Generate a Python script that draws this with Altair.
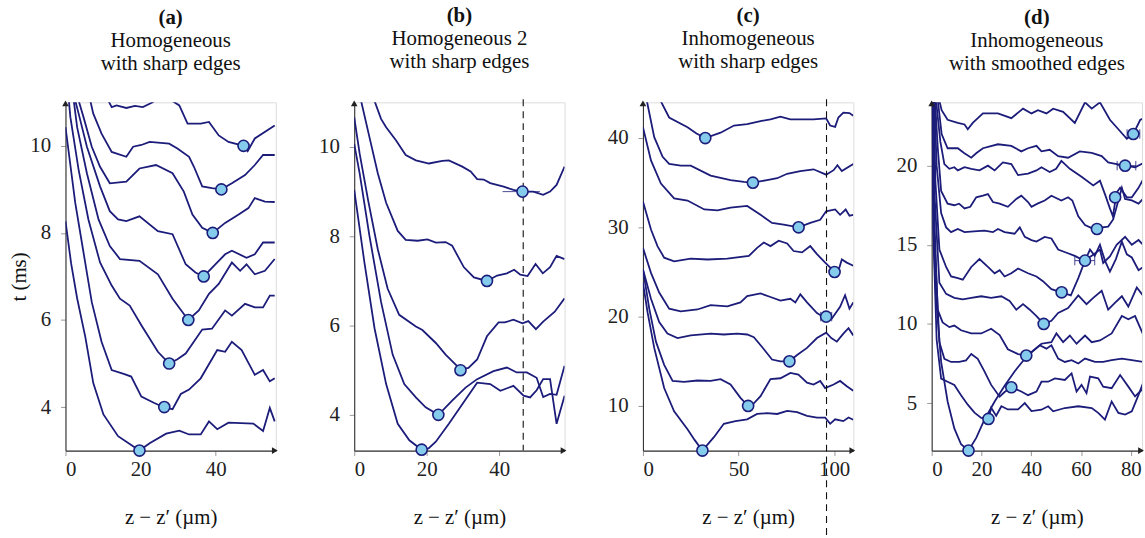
import altair as alt
import pandas as pd

NAVY = "#1c1c7a"
SKY = "#84cbec"
FONT = "'Liberation Serif', 'Times New Roman', 'DejaVu Serif', serif"
FS = 21

# ---------------- panel (a) ----------------
A3 = [(0, 8.27), (1.5, 7.3), (3.1, 6.5), (5.3, 5.6), (7.4, 4.55), (10.1, 3.83), (14.0, 3.33), (19.7, 3.0),
      (22.4, 3.17), (26.8, 3.39), (30.3, 3.46), (32.9, 3.37), (36.0, 3.37), (38.2, 3.67), (40.4, 3.49),
      (43.4, 3.64), (50.0, 3.62), (52.6, 3.45), (54.4, 3.98), (55.7, 3.67)]
A4 = [(0, 10.43), (2.6, 8.69), (4.8, 7.55), (7.0, 6.41), (9.6, 5.5), (12.3, 4.85), (15.5, 4.76), (17.5, 4.70),
      (20.2, 4.24), (23.5, 4.1), (26.3, 3.99), (28.5, 3.95), (30.7, 4.3), (32.9, 4.4), (36.0, 4.66), (40.4, 5.31),
      (42.5, 5.27), (44.3, 5.5), (46.9, 5.31), (50.4, 4.74), (52.6, 4.85), (54.4, 4.59), (55.7, 4.66)]
A5 = [(0.9, 11.04), (1.3, 10.66), (3.5, 9.45), (6.1, 8.31), (9.2, 7.32), (12.3, 6.79), (14.5, 6.49), (17.1, 6.33),
      (20.2, 5.88), (24.6, 5.27), (27.6, 5.0), (29.8, 5.1), (32.0, 5.23), (36.4, 5.78), (39.0, 5.8), (42.5, 6.22),
      (44.3, 6.1), (47.8, 6.37), (50.4, 6.29), (52.6, 6.29), (54.4, 6.56), (55.7, 6.56)]
A6 = [(2.2, 11.04), (3.1, 10.43), (5.7, 9.37), (8.8, 8.31), (11.8, 7.70), (14.5, 7.40), (19.7, 7.36), (24.6, 7.05),
      (28.5, 6.49), (32.7, 6.0), (35.5, 6.22), (38.2, 6.6), (40.8, 6.83), (44.3, 7.32), (46.5, 7.13), (48.2, 7.28),
      (50.4, 7.05), (53.1, 7.13), (55.7, 7.40)]
A7 = [(2.6, 11.04), (3.5, 10.74), (5.7, 9.98), (9.2, 9.07), (11.8, 8.50), (14.0, 8.31), (16.2, 8.27), (19.7, 8.38),
      (24.6, 8.04), (28.5, 7.97), (32.0, 7.28), (34.6, 7.09), (36.8, 7.0), (39.9, 7.28), (42.5, 7.51), (44.3, 7.59),
      (48.2, 7.43), (50.4, 7.51), (52.6, 7.78), (55.7, 7.78)]
A8 = [(3.5, 11.04), (4.8, 10.66), (7.0, 9.98), (9.2, 9.52), (11.8, 9.14), (16.2, 9.18), (19.7, 9.48), (24.1, 9.56),
      (28.5, 9.37), (31.5, 8.95), (33.8, 8.42), (36.4, 8.12), (39.2, 8.0), (42.5, 8.23), (46.0, 8.42), (48.7, 8.57),
      (50.4, 8.80), (53.1, 8.72), (55.7, 8.71)]
A9 = [(6.6, 11.04), (7.4, 10.74), (9.6, 10.28), (12.3, 9.86), (16.2, 9.75), (18.0, 9.98), (20.2, 10.02),
      (22.4, 10.09), (27.6, 10.05), (29.8, 9.94), (32.9, 9.75), (34.2, 9.52), (36.4, 9.07), (39.0, 9.03),
      (41.5, 9.0), (44.3, 9.14), (47.8, 9.33), (50.4, 9.56), (52.6, 9.79), (55.7, 9.79)]
A10 = [(28.1, 11.05), (30.3, 10.93), (32.5, 10.51), (36.0, 10.51), (38.2, 10.55), (40.8, 10.24), (43.4, 10.09),
       (47.4, 10.0), (48.5, 9.88), (50.4, 10.17), (55.7, 10.47)]
A11 = [(11.4, 11.04), (12.3, 10.89), (13.6, 10.93), (16.2, 10.87), (18.5, 10.92), (20.6, 10.89), (23.2, 11.0),
       (24.5, 11.1)]
A_PTS = [(19.7, 3), (26.3, 4), (27.6, 5), (32.7, 6), (36.8, 7), (39.2, 8), (41.5, 9), (47.4, 10)]

# ---------------- panel (b) ----------------
B1 = [(0, 9.04), (2.8, 7.42), (5.6, 5.94), (8.8, 4.69), (12.0, 3.80), (15.2, 3.43), (18.6, 3.22), (20.5, 3.25),
      (22.5, 3.40), (26.1, 3.80), (29.8, 4.24), (33.9, 4.72), (37.5, 4.69), (40.3, 4.54), (43.9, 4.65),
      (46.7, 4.43), (48.5, 4.39), (50.3, 4.55), (52.1, 4.80), (54.0, 4.80), (55.8, 3.8), (58, 4.43)]
B2 = [(0, 10.07), (1.5, 9.41), (4.2, 8.01), (7.4, 6.53), (10.6, 5.35), (13.8, 4.69), (17.0, 4.39), (19.7, 4.17),
      (23.2, 4.0), (27.0, 4.32), (30.7, 4.61), (33.9, 4.80), (38.4, 4.98), (42.1, 5.06), (44.8, 4.95),
      (47.6, 4.95), (50.3, 4.83), (52.1, 4.40), (54.0, 4.47), (55.8, 4.45), (58, 5.1)]
B3 = [(0, 10.66), (1.5, 9.85), (3.8, 8.82), (6.5, 7.71), (9.2, 6.83), (12.4, 6.24), (17.0, 5.98), (18.8, 5.90),
      (22.5, 5.61), (25.2, 5.35), (29.3, 5.02), (31.5, 5.05), (33.9, 5.24), (36.6, 5.76), (39.8, 6.07),
      (41.5, 6.07), (43.9, 6.13), (46.4, 6.05), (48.0, 6.10), (50.1, 5.92), (52.1, 6.09), (55.3, 6.31), (58, 6.61)]
B4 = [(1.9, 11.03), (4.2, 10.22), (6.5, 9.41), (8.8, 8.75), (12.0, 8.12), (14.2, 7.92), (17.5, 7.90), (20.2, 7.93),
      (22.5, 7.86), (25.2, 7.87), (27.0, 7.79), (30.2, 7.31), (33.0, 7.08), (36.6, 7.0), (39.4, 7.12), (42.1, 7.17),
      (44.1, 7.25), (45.8, 7.14), (47.8, 7.11), (50.0, 7.38), (52.0, 7.17), (54.0, 7.31), (55.8, 7.56), (58, 7.49)]
B5 = [(5.6, 11.03), (7.4, 10.63), (8.8, 10.44), (11.5, 10.15), (14.2, 9.82), (17.0, 9.70), (20.6, 9.63),
      (24.3, 9.69), (26.1, 9.70), (29.8, 9.56), (32.1, 9.45), (33.9, 9.28), (35.7, 9.27), (37.5, 9.19),
      (41.2, 9.11), (43.9, 9.04), (46.4, 9.0), (49.4, 9.0), (52.1, 8.93), (54.0, 9.0), (55.8, 9.15), (58, 9.56)]
B_PTS = [(18.6, 3.22), (23.2, 4.0), (29.3, 5.0), (36.6, 7.0), (46.4, 9.0)]
B_ERR = [(9.0, 40.9, 51.2)]
B_VLINE = 46.6

# ---------------- panel (c) ----------------
C1 = [(0, 23.8), (2.4, 20.5), (5.9, 16.5), (11.1, 12.0), (16.3, 9.4), (23.3, 7.4), (27.0, 6.2), (31.1, 5.0),
      (37.1, 6.5), (42.3, 8.0), (48.4, 8.3), (54.5, 8.5), (59.7, 9.1), (64.9, 9.2), (70.2, 9.1), (75.4, 9.45),
      (80.6, 9.3), (85.8, 8.9), (91.0, 8.7), (95.3, 8.7), (97.9, 8.0), (100.5, 8.5), (104.8, 8.3), (107.5, 8.7),
      (110, 8.45)]
C2 = [(0, 25.3), (3.3, 20.9), (6.8, 17.2), (11.1, 14.6), (15.5, 12.8), (21.5, 12.7), (28.5, 12.85), (35.4, 12.8),
      (40.6, 13.0), (45.8, 12.4), (51.0, 10.9), (55.0, 10.0), (58.0, 10.3), (61.5, 11.1), (66.7, 13.0),
      (71.9, 13.1), (77.1, 13.7), (81.3, 13.5), (85.8, 12.6), (89.2, 12.4), (92.7, 12.8), (95.3, 12.0),
      (99.7, 12.4), (103.1, 12.8), (106.6, 12.2), (110, 11.7)]
C3 = [(0, 25.3), (4.2, 22.0), (8.5, 19.4), (12.8, 18.1), (18.1, 17.6), (25.0, 17.9), (35.4, 18.1), (42.3, 18.0),
      (49.3, 18.1), (54.5, 18.0), (58.0, 17.7), (62.3, 16.6), (67.5, 15.2), (71.9, 15.0), (76.6, 15.0),
      (80.6, 15.7), (85.8, 16.5), (91.0, 17.6), (95.8, 18.2), (98.5, 17.6), (101.4, 17.2), (104.8, 18.1),
      (107.5, 18.7), (110, 17.9)]
C4 = [(0, 27.7), (4.2, 24.9), (8.5, 22.7), (13.7, 20.9), (19.8, 20.6), (28.5, 20.8), (35.4, 21.3), (44.1, 21.15),
      (51.0, 21.6), (54.5, 22.3), (61.5, 22.6), (66.7, 22.2), (71.9, 21.8), (77.1, 22.0), (79.7, 21.6),
      (82.3, 22.5), (85.8, 21.6), (91.0, 20.4), (94.1, 20.0), (95.8, 20.0), (98.8, 19.8), (103.1, 21.1),
      (105.7, 22.4), (108.0, 20.9), (110, 21.6)]
C5 = [(0, 32.9), (4.2, 29.75), (7.6, 27.9), (11.1, 26.6), (16.3, 26.2), (25.0, 26.5), (33.7, 26.4), (44.1, 26.5),
      (55.4, 26.8), (59.7, 27.7), (63.2, 28.3), (66.7, 27.9), (71.0, 28.5), (75.4, 28.2), (78.8, 27.35),
      (83.2, 27.2), (87.5, 27.9), (91.0, 27.0), (95.3, 26.05), (98.0, 25.5), (100.2, 25.0), (101.5, 24.6),
      (104.0, 26.4), (106.6, 26.05), (110, 25.7)]
C6 = [(0, 41.2), (4.2, 37.5), (9.4, 34.9), (16.3, 33.25), (23.3, 33.0), (32.1, 32.0), (39.0, 31.9), (45.8, 32.2),
      (54.5, 32.4), (61.5, 31.4), (67.5, 30.5), (73.6, 30.3), (81.4, 30.0), (87.5, 30.5), (92.7, 30.85),
      (95.8, 31.8), (100.5, 32.0), (103.1, 31.4), (106.0, 32.0), (108.0, 31.3), (110, 31.4)]
C7 = [(2.1, 44.1), (5.9, 40.1), (10.3, 37.9), (13.7, 37.1), (19.8, 36.9), (25.0, 36.9), (35.4, 35.8), (45.8, 35.3),
      (52.8, 35.1), (57.5, 35.0), (64.9, 35.3), (70.2, 35.5), (75.4, 36.0), (82.3, 36.3), (89.2, 36.5),
      (95.8, 35.9), (99.7, 36.4), (101.7, 36.95), (104.0, 36.3), (110, 37.1)]
C8 = [(9.4, 44.1), (13.7, 42.3), (23.3, 41.2), (28.0, 40.5), (32.6, 40.0), (40.6, 40.6), (47.6, 41.4), (54.5, 41.55),
      (61.5, 41.9), (66.7, 42.1), (71.9, 42.4), (77.1, 42.1), (82.3, 42.1), (89.2, 42.1), (95.8, 42.2),
      (97.9, 41.4), (100.5, 41.25), (102.2, 42.3), (104.8, 42.85), (108.0, 42.8), (110, 42.5)]
C_PTS = [(31.1, 5), (55.0, 10), (76.6, 15), (95.8, 20), (100.2, 25), (81.4, 30), (57.5, 35), (32.6, 40)]
C_ERR = [(20.0, 93.0, 98.7)]
C_VLINE = 96.0

# ---------------- panel (d) ----------------
D2 = [(0.2, 24.5), (0.7, 16), (1.7, 11.75), (3.8, 7.6), (6.4, 5.1), (9.1, 3.4), (11.8, 2.4), (14.8, 2.0),
      (17.9, 2.8), (21.2, 3.95), (25.3, 5.1), (29.3, 6.1), (33.3, 7.0), (37.4, 7.8), (40.1, 8.2), (44.1, 8.75),
      (48.1, 8.85), (50.1, 9.4), (52.8, 8.85), (55.5, 9.27), (58.2, 8.75), (61.6, 9.27), (64.3, 8.85),
      (67.6, 8.96), (72.3, 9.4), (76.4, 10.5), (79.0, 10.3), (81.7, 10.5), (85.1, 9.27)]
D4 = [(0.3, 24.5), (0.8, 15), (2.0, 9), (3.8, 6.55), (6.4, 6.35), (9.1, 6.15), (11.8, 5.5), (14.5, 4.9),
      (17.2, 4.4), (19.9, 4.06), (22.8, 4.0), (23.9, 4.7), (25.9, 4.2), (28.0, 4.8), (30.6, 4.6), (34.7, 4.6),
      (37.4, 5.0), (40.1, 4.5), (44.1, 4.58), (46.8, 4.8), (48.8, 4.48), (53.5, 4.69), (58.9, 4.8), (64.3, 4.69),
      (66.9, 4.38), (69.6, 3.96), (72.3, 5.1), (75.0, 4.38), (77.7, 4.27), (80.4, 4.48), (83.1, 5.52),
      (85.1, 6.35)]
D6 = [(0.4, 24.5), (0.9, 16), (3.1, 8.85), (5.1, 7.8), (7.8, 7.6), (11.1, 7.6), (13.8, 7.7), (15.9, 8.1),
      (18.5, 7.8), (21.2, 7.0), (23.9, 6.15), (27.3, 5.4), (29.3, 5.7), (32.0, 6.0), (36.0, 5.73), (38.7, 5.5),
      (42.1, 5.73), (44.1, 6.35), (46.8, 6.35), (49.5, 6.56), (53.5, 6.46), (56.2, 6.88), (58.2, 5.73),
      (60.2, 6.15), (62.2, 5.63), (63.6, 6.67), (66.9, 6.56), (68.9, 6.04), (72.3, 5.94), (75.7, 6.77),
      (79.0, 6.04), (81.7, 5.42), (85.1, 5.94)]
D8 = [(0.5, 24.5), (1.0, 17), (2.4, 10.9), (4.4, 10.1), (7.1, 9.8), (9.1, 9.9), (11.8, 9.6), (15.9, 9.4),
      (19.9, 9.4), (23.9, 9.7), (27.3, 9.3), (30.6, 8.4), (34.7, 8.1), (38.0, 8.0), (40.1, 8.23), (43.4, 8.65),
      (46.1, 8.44), (48.1, 8.65), (50.8, 7.81), (53.5, 7.6), (56.2, 7.71), (58.9, 7.5), (61.6, 7.81),
      (65.6, 7.6), (68.9, 7.6), (72.3, 7.71), (76.4, 7.81), (80.4, 7.71), (85.1, 7.6)]
D10 = [(0.6, 24.5), (1.2, 18), (3.1, 12.6), (5.8, 11.9), (9.1, 11.65), (12.5, 11.55), (15.9, 11.65),
       (19.9, 11.75), (23.9, 11.65), (28.0, 11.75), (31.3, 11.45), (34.0, 10.9), (36.7, 11.25), (39.4, 10.9),
       (42.1, 10.5), (45.0, 10.0), (48.1, 10.2), (50.8, 10.7), (54.8, 11.0), (58.9, 11.8), (62.2, 11.25),
       (64.9, 11.65), (68.3, 12.1), (70.9, 10.9), (73.7, 11.35), (76.4, 11.75), (79.0, 11.1), (82.4, 12.3),
       (85.1, 11.75)]
D12 = [(0.8, 24.5), (1.5, 19), (3.1, 14.7), (5.8, 13.6), (7.8, 13.0), (10.5, 12.9), (12.5, 12.8), (15.9, 13.6),
       (19.2, 14.1), (22.6, 13.6), (25.3, 13.2), (27.3, 13.4), (29.3, 13.0), (32.0, 13.2), (34.7, 13.5),
       (38.7, 13.2), (42.1, 13.0), (44.7, 12.7), (48.1, 12.2), (52.2, 12.0), (55.9, 11.8), (58.9, 12.9),
       (61.6, 14.0), (63.6, 14.7), (65.5, 14.3), (67.6, 15.0), (69.6, 14.0), (71.6, 13.3), (74.0, 14.1),
       (76.4, 15.2), (78.4, 14.4), (80.4, 14.2), (83.1, 13.4), (85.0, 13.6)]
D14 = [(1.0, 24.5), (2.0, 20), (3.8, 17.0), (5.8, 16.1), (7.8, 15.8), (10.5, 16.0), (13.2, 15.8), (17.0, 15.85),
       (21.2, 15.9), (24.6, 15.8), (26.6, 16.0), (29.3, 15.8), (33.3, 15.7), (35.4, 16.1), (37.4, 15.5),
       (40.1, 15.3), (42.1, 15.2), (45.4, 15.5), (48.1, 15.4), (50.8, 14.7), (54.2, 14.5), (57.5, 14.3),
       (61.2, 14.0), (64.3, 14.3), (67.6, 14.7), (68.9, 13.85), (71.6, 14.27), (74.3, 15.0), (77.7, 15.5),
       (80.4, 15.0), (83.1, 15.3), (85.5, 14.9)]
D16 = [(1.2, 24.5), (2.5, 21), (3.8, 18.4), (6.4, 17.6), (9.1, 17.5), (11.0, 17.6), (13.2, 17.3), (15.5, 17.4),
       (17.9, 18.0), (20.6, 18.1), (22.6, 18.2), (24.6, 17.7), (27.3, 17.6), (30.6, 17.4), (34.0, 17.9),
       (36.0, 18.1), (38.7, 17.7), (40.1, 17.4), (42.5, 17.6), (45.4, 17.8), (48.1, 18.1), (52.1, 17.8),
       (54.8, 18.0), (56.5, 17.8), (58.9, 16.8), (61.6, 16.25), (64.3, 16.05), (66.4, 16.0), (68.5, 16.1),
       (70.9, 16.15), (72.9, 16.6), (75.0, 17.8), (76.4, 18.6), (77.7, 17.9), (80.4, 17.8), (83.1, 17.6),
       (85.5, 18.0)]
D18 = [(1.5, 24.5), (3.5, 21.5), (5.1, 20.1), (7.1, 19.8), (9.1, 19.9), (10.5, 19.7), (13.2, 19.9), (15.9, 19.8),
       (19.2, 19.7), (22.6, 20.0), (25.3, 19.7), (28.6, 20.2), (32.0, 20.1), (34.7, 19.4), (38.7, 19.5),
       (42.1, 19.7), (44.1, 19.9), (47.4, 19.6), (50.0, 19.8), (52.1, 20.3), (55.5, 19.8), (60.2, 19.3),
       (64.9, 18.75), (67.6, 19.05), (69.6, 18.2), (71.6, 17.3), (72.8, 16.8), (74.3, 18.3), (75.7, 18.6),
       (78.4, 18.0), (80.4, 18.0), (83.1, 18.6), (85.5, 19.3)]
D20 = [(2.2, 24.5), (4.0, 22), (6.4, 21.1), (10.5, 21.1), (13.0, 20.8), (15.9, 20.5), (18.0, 20.8), (20.6, 21.1),
       (26.6, 21.35), (32.0, 21.25), (36.0, 20.9), (38.7, 21.1), (42.1, 21.25), (44.1, 20.9), (47.4, 21.0),
       (50.8, 20.6), (54.8, 20.5), (59.5, 20.9), (64.3, 20.8), (68.3, 20.6), (70.9, 20.2), (74.3, 20.1),
       (77.7, 20.0), (81.7, 19.9), (85.5, 20.2)]
D22 = [(2.5, 24.5), (4.0, 23.5), (6.4, 22.9), (10.5, 22.7), (13.2, 22.6), (14.5, 22.3), (16.5, 22.7),
       (20.6, 23.3), (26.6, 23.3), (32.0, 23.0), (36.7, 23.6), (40.1, 23.3), (42.7, 23.5), (46.1, 23.3),
       (48.8, 23.6), (52.8, 23.4), (57.5, 22.7), (61.6, 24.0), (64.3, 23.6), (67.6, 24.0), (71.6, 22.9),
       (75.0, 22.3), (78.4, 21.7), (81.0, 22.0), (83.8, 22.9), (85.5, 23.0)]
D_PTS = [(14.8, 2), (22.8, 4), (32.0, 6), (38.0, 8), (45.0, 10), (52.2, 12), (61.6, 14), (66.4, 16), (73.7, 18),
         (77.7, 20), (81.0, 22)]
D_ERR = [(14.0, 57.5, 65.5), (20.0, 74.5, 82.0), (22.0, 78.5, 83.6)]

XTITLE = "z − z′ (µm)"
W, H = 212, 351


def panel(curves, pts, xdom, ydom, xticks, yticks, letter, subtitle, ytitle="",
          errs=(), caps=True, vline=None, vline_ext=0):
    rows = []
    for ci, c in enumerate(curves):
        for i, (z, t) in enumerate(c):
            rows.append({"curve": ci, "i": i, "z": z, "t": t})
    df = pd.DataFrame(rows)
    pdf = pd.DataFrame([{"z": z, "t": t} for z, t in pts])

    xs = alt.Scale(domain=list(xdom), nice=False, zero=False)
    ys = alt.Scale(domain=list(ydom), nice=False, zero=False)
    xax = alt.Axis(values=xticks, format="d", title=XTITLE, grid=False,
                   labelFont=FONT, labelFontSize=FS, labelColor="#222",
                   titleFont=FONT, titleFontSize=FS, titleFontWeight="normal", titleColor="#111",
                   domainColor="#333", domainWidth=1.1, tickColor="#999", tickSize=5,
                   labelPadding=3, titlePadding=27)
    yax = alt.Axis(values=yticks, format="d", title=ytitle, grid=False,
                   labelFont=FONT, labelFontSize=FS, labelColor="#222",
                   titleFont=FONT, titleFontSize=FS, titleFontWeight="normal", titleColor="#111",
                   domainColor="#333", domainWidth=1.1, tickColor="#999", tickSize=5,
                   labelPadding=10, titlePadding=0)
    X = alt.X("z:Q", scale=xs, axis=xax)
    Y = alt.Y("t:Q", scale=ys, axis=yax)

    layers = [alt.Chart(df).mark_line(clip=True, color=NAVY, strokeWidth=1.8).encode(
        x=X, y=Y, detail="curve:N", order="i:Q")]

    if vline is not None:
        vdf = pd.DataFrame([{"z": vline}])
        layers.append(alt.Chart(vdf).mark_rule(color="#111", strokeWidth=1.1, strokeDash=[7, 5]).encode(
            x=X, y=alt.value(-3), y2=alt.value(H + vline_ext)))

    if errs:
        edf = pd.DataFrame([{"t": t, "lo": lo, "hi": hi} for t, lo, hi in errs])
        layers.append(alt.Chart(edf).mark_rule(color=NAVY, strokeWidth=1, opacity=0.8).encode(
            x=alt.X("lo:Q", scale=xs, axis=xax), x2="hi:Q", y=Y))
        if caps:
            cdf = pd.DataFrame([{"t": t, "z": v} for t, lo, hi in errs for v in (lo, hi)])
            layers.append(alt.Chart(cdf).mark_point(shape="stroke", angle=90, size=90, color=NAVY,
                                                    strokeWidth=1, opacity=0.8).encode(x=X, y=Y))

    layers.append(alt.Chart(pdf).mark_circle(size=125, color=SKY, stroke=NAVY, strokeWidth=1.6,
                                             opacity=1).encode(x=X, y=Y))

    adf_r = pd.DataFrame([{"z": xdom[1], "t": ydom[0]}])
    adf_u = pd.DataFrame([{"z": xdom[0], "t": ydom[1]}])
    layers.append(alt.Chart(adf_r).mark_point(shape="triangle-right", size=45, filled=True, color="#222",
                                              opacity=1, xOffset=-1).encode(x=X, y=Y))
    layers.append(alt.Chart(adf_u).mark_point(shape="triangle-up", size=45, filled=True, color="#222",
                                              opacity=1, yOffset=1).encode(x=X, y=Y))

    return alt.layer(*layers).properties(
        width=W, height=H,
        title=alt.TitleParams(text=letter, subtitle=subtitle, font=FONT, fontSize=FS, fontWeight="bold",
                              color="#111", subtitleFont=FONT, subtitleFontSize=FS, subtitleColor="#111",
                              subtitleLineHeight=23, subtitlePadding=2, anchor="middle", frame="group",
                              offset=27))


pa = panel([A3, A4, A5, A6, A7, A8, A9, A10, A11], A_PTS, (0, 56), (3, 11), [0, 20, 40], [4, 6, 8, 10],
           "(a)", ["Homogeneous", "with sharp edges"], ytitle="t (ms)")
pb = panel([B1, B2, B3, B4, B5], B_PTS, (0, 58), (3.2, 11), [0, 20, 40], [4, 6, 8, 10],
           "(b)", ["Homogeneous 2", "with sharp edges"], errs=B_ERR, caps=False, vline=B_VLINE)
pc = panel([C1, C2, C3, C4, C5, C6, C7, C8], C_PTS, (0, 110), (5, 44), [0, 50, 100], [10, 20, 30, 40],
           "(c)", ["Inhomogeneous", "with sharp edges"], errs=C_ERR, vline=C_VLINE, vline_ext=88)
pd_ = panel([D2, D4, D6, D8, D10, D12, D14, D16, D18, D20, D22], D_PTS, (0, 84.5), (2, 24),
            [0, 20, 40, 60, 80], [5, 10, 15, 20],
            "(d)", ["Inhomogeneous", "with smoothed edges"], errs=D_ERR)

chart = alt.hconcat(pa, pb, pc, pd_, spacing=39).properties(
    padding={"left": 8, "top": 2, "right": 0, "bottom": 0}
).configure_view(stroke=None).configure(background="white")

chart.save("out.html", embed_options={"renderer": "svg", "actions": False})
